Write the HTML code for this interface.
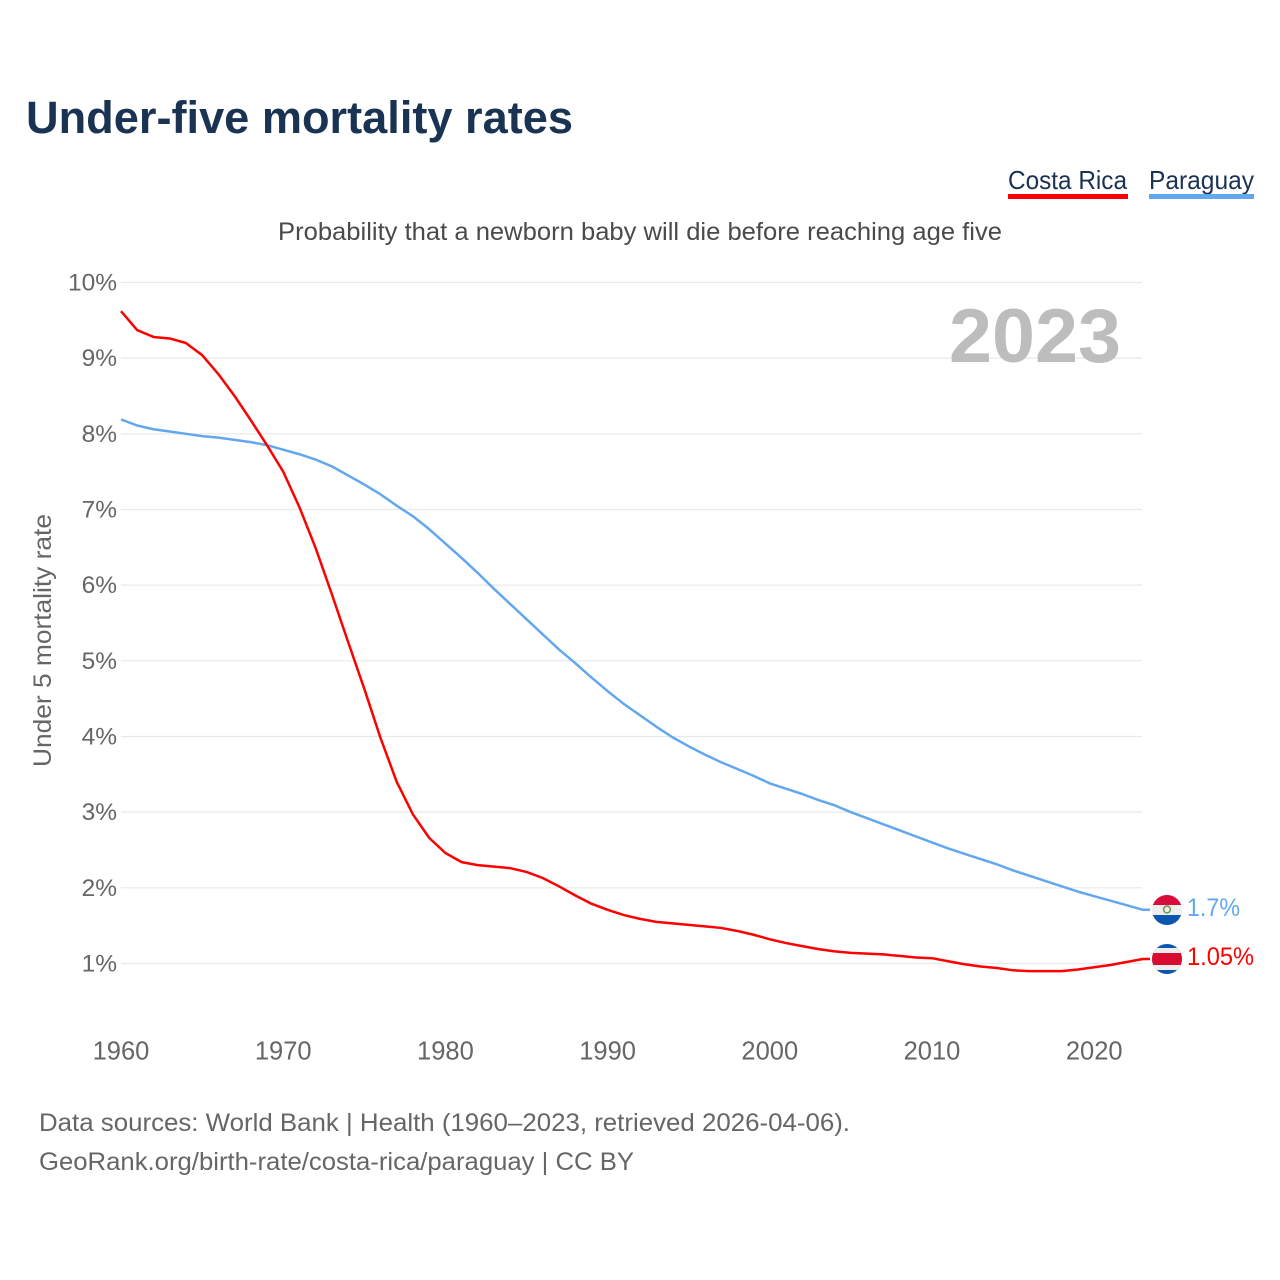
<!DOCTYPE html>
<html lang="en">
<head>
<meta charset="utf-8">
<title>Under-five mortality rates</title>
<style>
html,body{margin:0;padding:0;background:#fff;width:1280px;height:1280px;overflow:hidden}
svg{display:block}
text{font-family:"Liberation Sans",sans-serif}
</style>
</head>
<body>
<svg id="chart" xmlns="http://www.w3.org/2000/svg" width="1280" height="1280" viewBox="0 0 1280 1280">
  <rect x="0" y="0" width="1280" height="1280" fill="#ffffff"/>
  <text x="26" y="133" font-size="45" font-weight="700" fill="#1a3353" textLength="547" lengthAdjust="spacingAndGlyphs">Under-five mortality rates</text>
  <g>
    <text x="1008" y="189" font-size="26" fill="#1a3353" textLength="119" lengthAdjust="spacingAndGlyphs">Costa Rica</text>
    <rect x="1008" y="194" width="120" height="5" fill="#ff0000"/>
  </g>
  <g>
    <text x="1149" y="189" font-size="26" fill="#1a3353" textLength="105" lengthAdjust="spacingAndGlyphs">Paraguay</text>
    <rect x="1149" y="194" width="105" height="5" fill="#63a8ee"/>
  </g>
  <text x="278" y="240" font-size="25" fill="#4a4a4a" textLength="724" lengthAdjust="spacingAndGlyphs">Probability that a newborn baby will die before reaching age five</text>
  <g id="grid"></g>
  <g id="yticks"></g>
  <g id="xticks"></g>
  <text transform="translate(51,767) rotate(-90)" x="0" y="0" font-size="25" fill="#666666" textLength="253" lengthAdjust="spacingAndGlyphs">Under 5 mortality rate</text>
  <text x="949" y="362" font-size="76" font-weight="700" fill="#bdbdbd" textLength="172" lengthAdjust="spacingAndGlyphs">2023</text>
  <g id="series"></g>
  <defs>
    <clipPath id="clip-py"><circle cx="1167" cy="910" r="15"/></clipPath>
    <clipPath id="clip-cr"><circle cx="1167" cy="959" r="15"/></clipPath>
  </defs>
  <g clip-path="url(#clip-py)">
    <rect x="1151" y="894" width="32" height="11" fill="#d80b3a"/>
    <rect x="1151" y="905" width="32" height="10" fill="#eeeeee"/>
    <rect x="1151" y="915" width="32" height="11" fill="#0a56b0"/>
    <circle cx="1167" cy="909.5" r="3.4" fill="none" stroke="#7a9a52" stroke-width="1.6"/>
  </g>
  <g clip-path="url(#clip-cr)">
    <rect x="1151" y="943" width="32" height="32" fill="#0a56b0"/>
    <rect x="1151" y="948" width="32" height="22" fill="#eeeeee"/>
    <rect x="1151" y="953" width="32" height="12" fill="#d80b30"/>
  </g>
  <text x="1187" y="916" font-size="25" fill="#63a8ee" textLength="53" lengthAdjust="spacingAndGlyphs">1.7%</text>
  <text x="1187" y="965" font-size="25" fill="#ff0000" textLength="67" lengthAdjust="spacingAndGlyphs">1.05%</text>
  <text x="39" y="1131" font-size="25" fill="#666666" textLength="811" lengthAdjust="spacingAndGlyphs">Data sources: World Bank | Health (1960–2023, retrieved 2026-04-06).</text>
  <text x="39" y="1170" font-size="25" fill="#666666" textLength="595" lengthAdjust="spacingAndGlyphs">GeoRank.org/birth-rate/costa-rica/paraguay | CC BY</text>
</svg>
<script>
const firstYear = 1960;
const yTickValues = [1, 2, 3, 4, 5, 6, 7, 8, 9, 10];
const yTickLabels = ["1%", "2%", "3%", "4%", "5%", "6%", "7%", "8%", "9%", "10%"];
const xTickValues = [1960, 1970, 1980, 1990, 2000, 2010, 2020];
const xTickLabels = ["1960", "1970", "1980", "1990", "2000", "2010", "2020"];
const costaRica = [9.62,9.37,9.28,9.26,9.2,9.04,8.79,8.5,8.18,7.85,7.5,7.03,6.49,5.88,5.25,4.63,3.98,3.4,2.97,2.66,2.46,2.34,2.3,2.28,2.26,2.21,2.13,2.02,1.9,1.79,1.71,1.64,1.59,1.55,1.53,1.51,1.49,1.47,1.43,1.38,1.32,1.27,1.23,1.19,1.16,1.14,1.13,1.12,1.1,1.08,1.07,1.03,0.99,0.96,0.94,0.91,0.9,0.9,0.9,0.92,0.95,0.98,1.02,1.06];
const paraguay = [8.19,8.11,8.06,8.03,8.0,7.97,7.95,7.92,7.89,7.85,7.79,7.73,7.66,7.57,7.45,7.33,7.2,7.05,6.91,6.74,6.55,6.36,6.16,5.95,5.75,5.55,5.35,5.15,4.97,4.78,4.6,4.43,4.28,4.13,3.99,3.87,3.76,3.66,3.57,3.48,3.38,3.31,3.24,3.16,3.09,3.0,2.92,2.84,2.76,2.68,2.6,2.52,2.45,2.38,2.31,2.23,2.16,2.09,2.02,1.95,1.89,1.83,1.77,1.71];

const NS = 'http://www.w3.org/2000/svg';
function xScale(year) { return 121 + (year - 1960) * 16.22; }
function yScale(pct) { return 963.5 - (pct - 1) * 75.67; }

const grid = document.getElementById('grid');
const yticks = document.getElementById('yticks');
yTickValues.forEach(function (v, i) {
  const line = document.createElementNS(NS, 'line');
  
  
  line.setAttribute('x1', 121);
  line.setAttribute('x2', 1142);
  line.setAttribute('y1', yScale(v));
  line.setAttribute('y2', yScale(v));
  line.setAttribute('stroke', '#e9e9e9');
  line.setAttribute('stroke-width', 1.2);
  grid.appendChild(line);

  const t = document.createElementNS(NS, 'text');
  
  
  t.setAttribute('x', 117);
  t.setAttribute('y', yScale(v) + 8);
  t.setAttribute('text-anchor', 'end');
  t.setAttribute('font-size', 24.5);
  t.setAttribute('fill', '#666666');
  t.textContent = yTickLabels[i];
  yticks.appendChild(t);
});

const xticks = document.getElementById('xticks');
xTickValues.forEach(function (v, i) {
  const t = document.createElementNS(NS, 'text');
  
  
  t.setAttribute('x', xScale(v));
  t.setAttribute('y', 1059.5);
  t.setAttribute('text-anchor', 'middle');
  t.setAttribute('font-size', 25.5);
  t.setAttribute('fill', '#666666');
  t.textContent = xTickLabels[i];
  xticks.appendChild(t);
});

const seriesGroup = document.getElementById('series');
function drawSeries(values, color, name) {
  const pts = values.map(function (v, i) {
    return xScale(firstYear + i).toFixed(2) + ',' + yScale(v).toFixed(2);
  });
  const last = yScale(values[values.length - 1]).toFixed(2);
  pts.push('1150,' + last);
  const p = document.createElementNS(NS, 'polyline');
  
  
  p.setAttribute('points', pts.join(' '));
  p.setAttribute('fill', 'none');
  p.setAttribute('stroke', color);
  p.setAttribute('stroke-width', 2.5);
  p.setAttribute('stroke-linejoin', 'round');
  seriesGroup.appendChild(p);
}
drawSeries(paraguay, '#63a8ee', 'paraguay-line');
drawSeries(costaRica, '#ff0000', 'costa-rica-line');
</script>
</body>
</html>
